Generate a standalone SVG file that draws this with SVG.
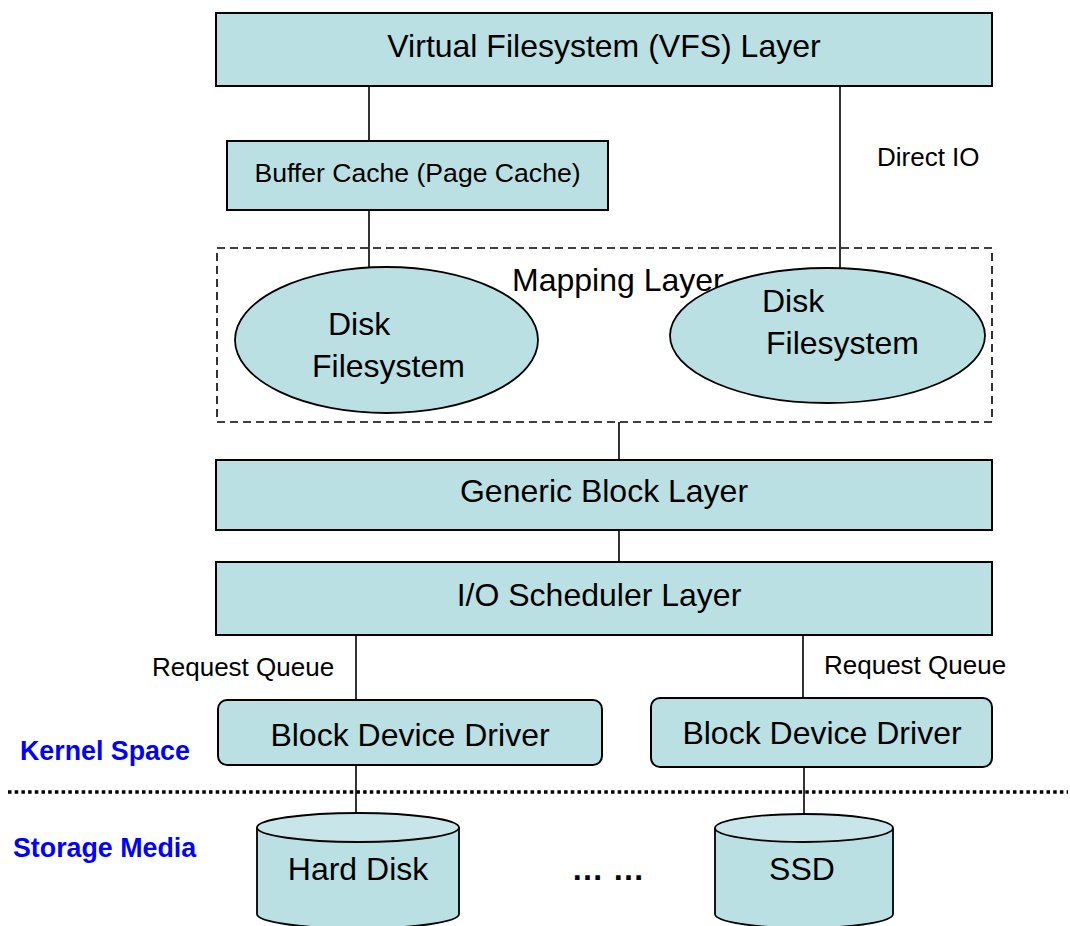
<svg xmlns="http://www.w3.org/2000/svg" width="1070" height="926" viewBox="0 0 1070 926">
  <style>
    .box { fill: #BBE0E3; stroke: #000; stroke-width: 2; }
    .ell { fill: #BBE0E3; stroke: #000; stroke-width: 1.8; }
    .lid { fill: #C8E6E9; stroke: #000; stroke-width: 1.8; }
    .link { stroke: #000; stroke-width: 1.6; fill: none; }
    .t { font-family: "Liberation Sans", Arial, sans-serif; fill: #000; }
    .big { font-size: 32px; }
    .mid { font-size: 26px; }
    .cache { font-size: 26.6px; }
    .side { font-family: "Liberation Sans", Arial, sans-serif; font-size: 26.8px; font-weight: bold; fill: #0000FF; }
  </style>

  <!-- connectors -->
  <g id="connectors">
    <line class="link" x1="369" y1="86" x2="369" y2="141"/>
    <line class="link" x1="369" y1="210" x2="369" y2="268"/>
    <line class="link" x1="840" y1="86" x2="840" y2="268"/>
    <line class="link" x1="619" y1="422" x2="619" y2="460"/>
    <line class="link" x1="619" y1="530" x2="619" y2="562"/>
    <line class="link" x1="356" y1="635" x2="356" y2="700"/>
    <line class="link" x1="803" y1="630" x2="803" y2="698"/>
    <line class="link" x1="356" y1="765" x2="356" y2="813"/>
    <line class="link" x1="804" y1="767" x2="804" y2="814"/>
  </g>

  <!-- kernel / storage boundary -->
  <line id="boundary" x1="8" y1="792" x2="1068" y2="792" stroke="#000" stroke-width="3.5" stroke-dasharray="3.5 3.2"/>

  <g id="vfs">
    <rect class="box" x="216" y="13" width="776" height="73"/>
    <text class="t big" x="604" y="57" text-anchor="middle">Virtual Filesystem (VFS) Layer</text>
  </g>

  <g id="buffer-cache">
    <rect class="box" x="227" y="141" width="381" height="69"/>
    <text class="t cache" x="417.5" y="182" text-anchor="middle">Buffer Cache (Page Cache)</text>
  </g>

  <text id="direct-io" class="t mid" x="877" y="166">Direct IO</text>

  <g id="mapping-layer">
    <rect x="217" y="248" width="775" height="174" fill="none" stroke="#000" stroke-width="1.6" stroke-dasharray="8 5"/>
    <text class="t big" x="512" y="291">Mapping Layer</text>
  </g>

  <g id="disk-fs-left">
    <ellipse class="ell" cx="386.5" cy="340" rx="151.5" ry="73"/>
    <text class="t big" x="328" y="335">Disk</text>
    <text class="t big" x="312" y="377">Filesystem</text>
  </g>

  <g id="disk-fs-right">
    <ellipse class="ell" cx="827.5" cy="335.5" rx="157.5" ry="67.5"/>
    <text class="t big" x="762" y="312">Disk</text>
    <text class="t big" x="766" y="354">Filesystem</text>
  </g>

  <g id="generic-block">
    <rect class="box" x="216" y="460" width="776" height="70"/>
    <text class="t big" x="604" y="502" text-anchor="middle">Generic Block Layer</text>
  </g>

  <g id="io-scheduler">
    <rect class="box" x="216" y="562" width="776" height="73"/>
    <text class="t big" x="599" y="606" text-anchor="middle">I/O Scheduler Layer</text>
  </g>

  <text id="rq-left" class="t mid" x="152" y="676">Request Queue</text>
  <text id="rq-right" class="t mid" x="824" y="674">Request Queue</text>

  <g id="driver-left">
    <rect class="box" x="218" y="700" width="384" height="65" rx="9" ry="9"/>
    <text class="t big" x="410" y="746" text-anchor="middle">Block Device Driver</text>
  </g>

  <g id="driver-right">
    <rect class="box" x="651" y="698" width="341" height="69" rx="9" ry="9"/>
    <text class="t big" x="822" y="744" text-anchor="middle">Block Device Driver</text>
  </g>

  <text id="kernel-space" class="side" x="20" y="760">Kernel Space</text>
  <text id="storage-media" class="side" x="13" y="857">Storage Media</text>

  <g id="hard-disk">
    <path class="ell" d="M257,827.5 L257,914 A101,14.5 0 0 0 459,914 L459,827.5"/>
    <ellipse class="lid" cx="358" cy="827.5" rx="101" ry="14.5"/>
    <text class="t big" x="358" y="880" text-anchor="middle">Hard Disk</text>
  </g>

  <text id="more" class="t big" x="608" y="880" text-anchor="middle" font-weight="bold">… …</text>

  <g id="ssd">
    <path class="ell" d="M715,828 L715,914 A89,14 0 0 0 893,914 L893,828"/>
    <ellipse class="lid" cx="804" cy="828" rx="89" ry="14"/>
    <text class="t big" x="802" y="880" text-anchor="middle">SSD</text>
  </g>
</svg>
